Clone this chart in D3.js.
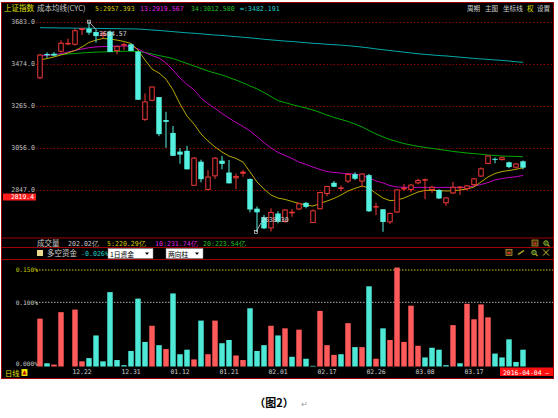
<!DOCTYPE html>
<html><head><meta charset="utf-8">
<script src="https://cdn.jsdelivr.net/npm/d3@7"></script>
<style>html,body{margin:0;padding:0;background:#fff;}svg{display:block}</style>
</head><body>
<svg id="c" width="558" height="418"></svg>
<script>
// ---------- DATA ----------
const dates = ["2015-12-14","2015-12-15","2015-12-16","2015-12-17","2015-12-18","2015-12-21","2015-12-22","2015-12-23","2015-12-24","2015-12-25",
"2015-12-28","2015-12-29","2015-12-30","2015-12-31","2016-01-04","2016-01-05","2016-01-06","2016-01-07","2016-01-08","2016-01-11",
"2016-01-12","2016-01-13","2016-01-14","2016-01-15","2016-01-18","2016-01-19","2016-01-20","2016-01-21","2016-01-22","2016-01-25",
"2016-01-26","2016-01-27","2016-01-28","2016-01-29","2016-02-01","2016-02-02","2016-02-03","2016-02-04","2016-02-05","2016-02-15",
"2016-02-16","2016-02-17","2016-02-18","2016-02-19","2016-02-22","2016-02-23","2016-02-24","2016-02-25","2016-02-26","2016-02-29",
"2016-03-01","2016-03-02","2016-03-03","2016-03-04","2016-03-07","2016-03-08","2016-03-09","2016-03-10","2016-03-11","2016-03-14",
"2016-03-15","2016-03-16","2016-03-17","2016-03-18","2016-03-21","2016-03-22","2016-03-23","2016-03-24","2016-03-25","2016-03-28"];
const opens = [3403,3524,3525,3535,3574,3570,3643,3650,3633,3614,
3635,3538,3566,3572,3536,3196,3291,3309,3195,3131,
3038,3042,2868,2988,2847,2915,2993,2934,2905,2928,
2902,2754,2711,2656,2730,2688,2731,2750,2783,2683,
2751,2827,2883,2856,2889,2926,2889,2921,2762,2751,
2686,2735,2850,2847,2880,2897,2847,2847,2781,2830,
2856,2851,2871,2914,2977,3002,2996,2985,2958,2990];
const highs = [3523,3532,3533,3592,3600,3651,3653,3684.57,3643,3638,
3641,3565,3580,3576,3538,3328,3362,3309,3236,3166,
3055,3067,3011,2998,2946,3011,3016,2996,2929,2947,
2904,2765,2723,2756,2741,2752,2752,2784,2787,2750,
2838,2868,2892,2869,2933,2935,2930,2927,2783,2752,
2735,2850,2877,2876,2903,2904,2868,2851,2811,2888,
2866,2872,2906,2960,3020,3009,3014,2988,2982,2994];
const lows = [3399,3505,3512,3530,3568,3565,3618,3620,3580,3601,
3533,3522,3543,3538,3295,3190,3288,3115,3057,3016,
2978,2949,2867,2885,2845,2902,2950,2880,2851,2913,
2736,2638.30,2653,2640,2681,2684,2713,2747,2756,2682,
2751,2815,2862,2841,2882,2896,2860,2738,2722,2639,
2678,2734,2843,2835,2875,2801,2833,2802,2768,2827,
2822,2846,2868,2912,2976,2980,2993,2955,2953,2950];
const closes = [3521,3518,3516,3580,3579,3642,3652,3630,3613,3628,
3534,3563,3573,3539,3296,3288,3362,3125,3186,3017,
3023,2950,3008,2901,2914,3008,2977,2880,2917,2938,
2750,2736,2656,2738,2689,2750,2739,2781,2763,2746,
2837,2867,2863,2860,2927,2903,2929,2741,2767,2688,
2733,2850,2859,2874,2897,2901,2863,2805,2810,2863,
2864,2870,2905,2955,3019,2999,3010,2961,2979,2958];
const cyc5 = [3494,3501,3509,3519,3529,3541,3559,3581,3593,3601,
3598,3593,3586,3576,3544,3494,3449,3429,3399,3345,
3275,3215,3175,3126,3091,3061,3036,3016,3004,2986,
2937,2887,2852,2822,2807,2800,2790,2780,2772,2767,
2780,2792,2805,2822,2842,2855,2867,2857,2830,2807,
2794,2797,2807,2822,2837,2845,2845,2844,2842,2843,
2847,2852,2862,2887,2912,2929,2939,2944,2950,2957.4];
const cyc13 = [3514,3517,3521,3525,3534,3541,3549,3555,3559,3561,
3562,3563,3564,3562,3549,3531,3516,3504,3479,3444,
3404,3372,3345,3305,3277,3253,3228,3205,3183,3163,
3141,3113,3083,3056,3034,3019,3004,2986,2974,2961,
2949,2939,2934,2931,2928,2926,2919,2907,2892,2882,
2869,2862,2861,2860,2860,2860,2860,2860,2860,2860,
2860,2860,2867,2874,2884,2897,2904,2909,2913,2919.6];
const cyc34 = [3516,3518,3519,3521,3524,3526,3529,3531,3533,3534,
3535,3536,3537,3538,3536,3531,3524,3516,3509,3501,
3489,3477,3464,3452,3439,3429,3419,3407,3394,3380,
3365,3350,3332,3312,3292,3282,3272,3263,3255,3245,
3233,3220,3208,3198,3188,3175,3161,3143,3126,3111,
3098,3088,3078,3071,3064,3059,3054,3049,3044,3039,
3035,3031,3028,3025,3021,3019,3016,3015,3014,3012.6];
const cycInf = [3655,3654,3654,3653,3653,3652,3652,3652,3651,3651,
3650,3650,3649,3649,3648,3646,3643,3641,3638,3635,
3632,3629,3627,3624,3621,3618,3616,3613,3610,3607,
3604,3601,3597,3594,3591,3588,3586,3583,3580,3577,
3575,3572,3570,3568,3565,3562,3558,3554,3549,3545,
3541,3537,3533,3529,3525,3522,3519,3516,3514,3511,
3508,3505,3502,3499,3497,3494,3492,3489,3485,3482.2];
const flow = [0.074,0.005,0.003,0.084,0.000,0.088,0.008,0.013,0.048,0.008,
0.115,0.010,0.002,0.024,0.105,0.038,0.063,0.033,0.027,0.113,
0.019,0.026,0.011,0.071,0.019,0.071,0.036,0.041,0.017,0.010,
0.090,0.024,0.033,0.063,0.048,0.059,0.015,0.057,0.012,0.001,
0.086,0.033,0.018,0.019,0.067,0.030,0.030,0.124,0.012,0.059,
0.041,0.153,0.038,0.094,0.032,0.014,0.029,0.026,0.002,0.064,
0.005,0.097,0.073,0.096,0.076,0.020,0.014,0.042,0.007,0.026];
const flowSide = ["in","out","in","in","in","in","in","out","out","out",
"out","out","out","out","out","out","in","out","in","out",
"out","out","in","out","in","in","out","out","in","in",
"out","out","out","in","out","in","out","in","out","out",
"in","in","in","out","in","out","in","out","in","out",
"in","in","in","in","in","out","out","out","out","in",
"out","in","in","in","in","out","out","out","out","out"];
const priceTicks = [3683.0, 3474.0, 3265.0, 3056.0, 2847.0];
const flowTicks = [0.150, 0.100, 0.000];
const tickLabels = ["12.22","12.31","01.12","01.21","02.01","02.17","02.26","03.08","03.17"];

// ---------- DRAW ----------
const svg = d3.select("#c");
const RED = "#f03838", CY = "#54f0e0", GRID = "#8c0000";
const mono = "'DejaVu Sans Mono','Liberation Mono',monospace";
const cjk = "'Noto Sans CJK SC','Noto Sans',sans-serif";

svg.append("rect").attr("width",558).attr("height",418).attr("fill","#fff");
svg.append("rect").attr("x",1).attr("y",2).attr("width",553).attr("height",377).attr("fill","#000");

const idx = d3.range(dates.length);
const x = d3.scaleBand().domain(idx).range([36.5, 36.5 + 7*dates.length]).paddingInner(0.22).paddingOuter(0.11);
const cx = i => x(i) + x.bandwidth()/2;
const y = d3.scaleLinear().domain([2847, 3683]).range([190, 22]);
const yf = d3.scaleLinear().domain([0, 0.15]).range([366.5, 269.5]);

// price grid + labels
const gridAxis = d3.axisRight(y).tickValues(priceTicks).tickSize(517).tickFormat("");
const gg = svg.append("g").attr("transform","translate(36,0)").call(gridAxis);
gg.select(".domain").remove();
gg.selectAll("line").attr("stroke",GRID).attr("stroke-dasharray","1.5,2");
const pAxis = d3.axisLeft(y).tickValues(priceTicks).tickSize(0).tickPadding(0).tickFormat(d3.format(".1f"));
const pa = svg.append("g").attr("transform","translate(35,0)").call(pAxis);
pa.select(".domain").remove();
pa.selectAll("text").attr("fill","#c0c0c0").attr("font-family",mono).attr("font-size",6.6).attr("dy","0.25em");

// MA lines
const line = arr => d3.line().x((d,i)=>cx(i)).y(d=>y(d))(arr);
[[cycInf,"#00a8a8"],[cyc34,"#00a800"],[cyc13,"#c000c0"],[cyc5,"#b8a800"]].forEach(([a,c])=>{
  svg.append("path").attr("d",line(a)).attr("fill","none").attr("stroke",c).attr("stroke-width",1);
});

// candles
const cg = svg.append("g");
idx.forEach(i=>{
  const up = closes[i] >= opens[i];
  const col = up ? RED : CY;
  const top = y(Math.max(opens[i],closes[i])), bot = y(Math.min(opens[i],closes[i]));
  const h = Math.max(1, bot-top);
  cg.append("line").attr("x1",cx(i)).attr("x2",cx(i)).attr("y1",y(highs[i])).attr("y2",y(lows[i]))
    .attr("stroke",col).attr("stroke-width",1);
  if (up) {
    cg.append("rect").attr("x",x(i)+0.5).attr("y",top+0.5).attr("width",x.bandwidth()-1).attr("height",Math.max(0.5,h-1))
      .attr("fill","#000").attr("stroke",col).attr("stroke-width",1);
  } else {
    cg.append("rect").attr("x",x(i)).attr("y",top).attr("width",x.bandwidth()).attr("height",h).attr("fill",col);
  }
});

// high / low markers
const iHi = d3.maxIndex(highs), iLo = d3.minIndex(lows);
const hx = cx(iHi), hy = y(highs[iHi]);
svg.append("line").attr("x1",hx).attr("y1",hy).attr("x2",hx+8).attr("y2",hy+9).attr("stroke","#d0d0d0").attr("stroke-width",0.8);
svg.append("rect").attr("x",hx-1.5).attr("y",hy-1.5).attr("width",3).attr("height",3).attr("fill","none").attr("stroke","#d0d0d0").attr("stroke-width",0.7);
svg.append("text").attr("x",hx+10).attr("y",hy+14).text(d3.format(".2f")(highs[iHi]))
  .attr("fill","#d8d8d8").attr("font-family",mono).attr("font-size",6.6);
const lx = cx(iLo), ly = y(lows[iLo]);
svg.append("line").attr("x1",lx-1).attr("y1",ly).attr("x2",lx+4).attr("y2",ly-9).attr("stroke","#d0d0d0").attr("stroke-width",0.8);
svg.append("rect").attr("x",lx-2.5).attr("y",ly-1.5).attr("width",3).attr("height",3).attr("fill","none").attr("stroke","#d0d0d0").attr("stroke-width",0.7);
svg.append("text").attr("x",lx+4).attr("y",ly-10).text(d3.format(".2f")(lows[iLo]))
  .attr("fill","#d8d8d8").attr("font-family",mono).attr("font-size",6.6);

// current price box
svg.append("rect").attr("x",3).attr("y",193.5).attr("width",33).attr("height",7).attr("fill","#ff1c1c");
svg.append("text").attr("x",34).attr("y",199.4).attr("text-anchor","end").text("2819.4")
  .attr("fill","#fff").attr("font-family",mono).attr("font-size",6.4);

// header
const hdr = [["上证指数",4,"#e0e000",cjk,7.5],["成本均线(CYC)",37,"#c8c8c8",cjk,7.5],
  ["5:2957.393",95,"#d8c800",mono,6.6],["13:2919.567",140,"#e020e0",mono,6.6],
  ["34:3012.580",191,"#20c020",mono,6.6],["∞:3482.191",240,"#20d0d0",mono,6.6]];
hdr.forEach(([t,xx,c,f,s])=>svg.append("text").attr("x",xx).attr("y",11).text(t).attr("fill",c).attr("font-family",f).attr("font-size",s));
[["周期",467,"#d0d0d0"],["主图",485,"#d0d0d0"],["坐标线",503,"#d0d0d0"],["权",527,"#e0e000"],["设置",537,"#d0d0d0"]]
  .forEach(([t,xx,c])=>svg.append("text").attr("x",xx).attr("y",11).text(t).attr("fill",c).attr("font-family",cjk).attr("font-size",6.6));

// panel separators
[238, 247.5, 259.5].forEach(v=>svg.append("line").attr("x1",1).attr("x2",554).attr("y1",v).attr("y2",v).attr("stroke","#a00000").attr("stroke-width",1));

// volume header row
[["成交量",37,"#c8c8c8",cjk,7.5],["202.02亿",68,"#c8c8c8",mono,6.6],["5:220.29亿",107,"#d8c800",mono,6.6],
 ["10:231.74亿",155,"#e020e0",mono,6.6],["20:223.54亿",203,"#20c020",mono,6.6]]
 .forEach(([t,xx,c,f,s])=>svg.append("text").attr("x",xx).attr("y",245.5).text(t).attr("fill",c).attr("font-family",f).attr("font-size",s));

// 多空资金 row
svg.append("rect").attr("x",37).attr("y",250).attr("width",6).attr("height",6).attr("fill","#e8d890");
svg.append("text").attr("x",47).attr("y",256).text("多空资金").attr("fill","#d0d0d0").attr("font-family",cjk).attr("font-size",7.5);
svg.append("text").attr("x",81).attr("y",256).text("-0.026%").attr("fill","#20d0c0").attr("font-family",mono).attr("font-size",6.6);
[[108,45,"1日资金"],[166,37,"两向柱"]].forEach(([xx,w,t])=>{
  svg.append("rect").attr("x",xx).attr("y",248.5).attr("width",w).attr("height",10).attr("fill","#fff").attr("stroke","#888").attr("stroke-width",0.5);
  svg.append("text").attr("x",xx+2).attr("y",256.5).text(t).attr("fill","#000").attr("font-family",cjk).attr("font-size",6.8);
  svg.append("path").attr("d",`M${xx+w-8},252.5 l4,0 l-2,2.5 z`).attr("fill","#000");
});
// icons
[[535,243],[546,243],[509,252.5],[521,252.5],[534,252.5],[546,252.5]].forEach(([xx,yy],k)=>{
  const g = svg.append("g").attr("transform",`translate(${xx},${yy})`);
  if (k===0||k===2) { g.append("rect").attr("x",-3).attr("y",-3).attr("width",6).attr("height",6).attr("fill","#403000").attr("stroke","#c0a040").attr("stroke-width",0.7);
    g.append("rect").attr("x",-1.5).attr("y",-0.5).attr("width",3).attr("height",2).attr("fill","#d03030"); }
  else if (k===3) { g.append("path").attr("d","M-3,2 L3,-2").attr("stroke","#c0b020").attr("stroke-width",1.5); }
  else if (k===5) { g.append("path").attr("d","M-3,-3 L3,3 M3,-3 L-3,3").attr("stroke","#d0c030").attr("stroke-width",1); }
  else { g.append("circle").attr("r",2.3).attr("fill","#305010").attr("stroke","#a0c040").attr("stroke-width",0.8);
    g.append("line").attr("x1",1.5).attr("y1",1.5).attr("x2",3.5).attr("y2",3.5).attr("stroke","#c0a020").attr("stroke-width",1.2); }
});

// flow panel grid
const fAxis = d3.axisRight(yf).tickValues(flowTicks.slice(0,2)).tickSize(517).tickFormat("");
const fg = svg.append("g").attr("transform","translate(36,0)").call(fAxis);
fg.select(".domain").remove();
fg.selectAll("line").attr("stroke-dasharray","1.5,1.5").attr("stroke",(d)=> d===0.15 ? "#c8c800" : "#b0b0b0");
const fl = d3.axisLeft(yf).tickValues(flowTicks).tickSize(0).tickPadding(0).tickFormat(d=>d3.format(".3f")(d)+"%");
const fla = svg.append("g").attr("transform","translate(38,0)").call(fl);
fla.select(".domain").remove();
fla.selectAll("text").attr("fill",d=> d===0.15 ? "#c8c800" : "#c8c8c8").attr("font-family",mono).attr("font-size",6.2)
  .attr("dy",d=> d===0 ? "-0.2em" : "0.35em");

// flow bars
svg.append("g").selectAll("rect").data(flow).join("rect")
  .attr("x",(d,i)=>x(i)).attr("width",x.bandwidth())
  .attr("y",d=>yf(d)).attr("height",d=>Math.max(0, yf(0)-yf(d)))
  .attr("fill",(d,i)=> flowSide[i]==="in" ? "#ff5a5a" : "#4ee8d6");

// bottom axis strip
svg.append("rect").attr("x",1).attr("y",367).attr("width",553).attr("height",11).attr("fill","#000");
const tickIdx = tickLabels.map(t=>dates.findIndex(d=>d.slice(5).replace("-",".")===t));
const xAxis = d3.axisBottom(x).tickValues(tickIdx).tickSize(0).tickPadding(0).tickFormat(i=>dates[i].slice(5).replace("-","."));
const xa = svg.append("g").attr("transform","translate(0,369)").call(xAxis);
xa.select(".domain").remove();
xa.selectAll("text").attr("fill","#d0d0d0").attr("font-family",mono).attr("font-size",6.4).attr("dy","0.71em");
svg.append("text").attr("x",5).attr("y",376).text("日线").attr("fill","#e0e000").attr("font-family",cjk).attr("font-size",7.2);
svg.append("rect").attr("x",21.5).attr("y",369).attr("width",6).attr("height",7).attr("fill","#e8e000");
svg.append("path").attr("d","M24.5,370.5 l2,4 l-4,0 z").attr("fill","#c00000");
svg.append("rect").attr("x",500).attr("y",367.5).attr("width",54).attr("height",8.5).attr("fill","#ff1010");
svg.append("text").attr("x",503).attr("y",374.5).text("2016-04-04 —").attr("fill","#fff").attr("font-family",mono).attr("font-size",6.4);

// frame
svg.append("rect").attr("x",1.5).attr("y",2.5).attr("width",552).attr("height",376).attr("fill","none").attr("stroke","#a00000").attr("stroke-width",1);

// caption
svg.append("text").attr("x",274).attr("y",407).attr("text-anchor","middle").text("（图2）")
  .attr("fill","#000").attr("font-family",cjk).attr("font-weight","bold").attr("font-size",11);
svg.append("text").attr("x",301).attr("y",407).text("↵").attr("fill","#999").attr("font-family",cjk).attr("font-size",8);
</script></body></html>
